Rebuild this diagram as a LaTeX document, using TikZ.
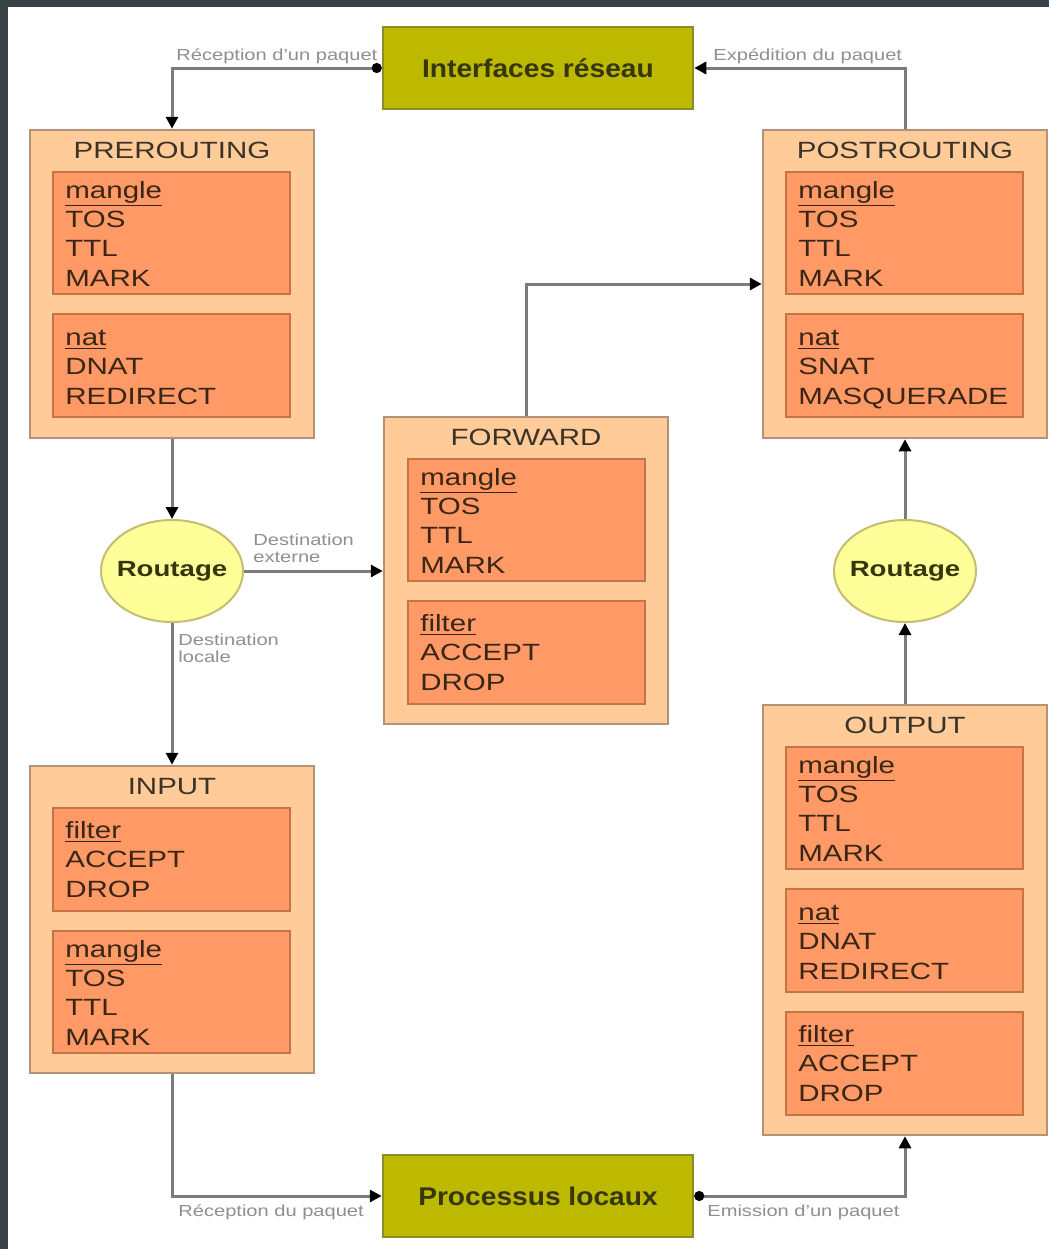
\documentclass[tikz,border=0pt]{standalone}
\usepackage{fontspec}
\setmainfont{Liberation Sans}[FakeStretch=1.255]
\newfontfamily\olivefont{Liberation Sans}[FakeStretch=1.1]
\usetikzlibrary{arrows.meta,shapes.geometric,fit}
\definecolor{bgdark}{HTML}{394246}
\definecolor{outerfill}{HTML}{FFCC99}
\definecolor{outerdraw}{HTML}{B39279}
\definecolor{innerfill}{HTML}{FF9966}
\definecolor{innerdraw}{HTML}{C47445}
\definecolor{olivefill}{HTML}{BDB800}
\definecolor{olivedraw}{HTML}{8E8B2E}
\definecolor{ellfill}{HTML}{FFFF99}
\definecolor{elldraw}{HTML}{C4BD72}
\definecolor{linegray}{HTML}{7C7C7C}
\definecolor{labelgray}{HTML}{8F8F8F}
\definecolor{boxtext}{HTML}{3A2616}
\definecolor{titletext}{HTML}{3B3328}
\definecolor{olivetext}{HTML}{36360C}
\tikzset{
  endtip/.tip={Triangle[length=6pt,width=6pt,color=black]},
  starttip/.tip={Circle[length=5pt,color=black]},
  outerbox/.style={draw=outerdraw, fill=outerfill, line width=1.25pt, inner sep=0pt},
  innerbox/.style={draw=innerdraw, fill=innerfill, line width=1pt, inner sep=0pt},
  olivebox/.style={draw=olivedraw, fill=olivefill, line width=1.25pt, inner sep=0pt},
  olivetxt/.style={inner sep=0pt, text=olivetext, font=\olivefont\bfseries\fontsize{12.8}{15}\selectfont},
  routbox/.style={ellipse, draw=elldraw, fill=ellfill, line width=1pt, minimum width=71pt, minimum height=51pt, inner sep=0pt},
  routtxt/.style={inner sep=0pt, text=olivetext, font=\bfseries\fontsize{11}{13}\selectfont},
  titletxt/.style={anchor=base, inner sep=0pt, text=titletext, font=\fontsize{11.75}{14}\selectfont},
  boxtxt/.style={anchor=base west, inner sep=0pt, align=left, text=boxtext, font=\fontsize{11.75}{14.65}\selectfont},
  labeltxt/.style={anchor=base west, inner sep=0pt, align=left, text=labelgray, font=\fontsize{8}{8.5}\selectfont},
  conn/.style={draw=linegray, line width=1.5pt},
}
\begin{document}
\begin{tikzpicture}[x=0.5pt,y=-0.5pt]
\useasboundingbox (0,0) rectangle (1049,1249);
\fill[white] (0,0) rectangle (1049,1249);
\fill[bgdark] (0,0) rectangle (1049,7);
\fill[bgdark] (0,0) rectangle (8,1249);

% olive boxes
\node[olivebox, fit={(383,27) (693,109)}] (ifaces) {};
\node[olivetxt] (ifacest) at (ifaces.center) {Interfaces réseau};
\node[olivebox, fit={(383,1155) (693,1237)}] (proc) {};
\node[olivetxt] (proct) at (proc.center) {Processus locaux};

% PREROUTING (multi-line nodes: base = last line)
\node[outerbox, fit={(30,130) (314,438)}] (pre) {};
\node[titletxt] (pret) at (172,158) {PREROUTING};
\node[innerbox, fit={(53,172) (290,294)}] (prem) {};
\node[boxtxt] (premt) at (65,286) {\underline{mangle}\\TOS\\TTL\\MARK};
\node[innerbox, fit={(53,314) (290,417)}] (pren) {};
\node[boxtxt] (prent) at (65,404) {\underline{nat}\\DNAT\\REDIRECT};

% POSTROUTING
\node[outerbox, fit={(763,130) (1047,438)}] (post) {};
\node[titletxt] (postt) at (905,158) {POSTROUTING};
\node[innerbox, fit={(786,172) (1023,294)}] (postm) {};
\node[boxtxt] (postmt) at (798,286) {\underline{mangle}\\TOS\\TTL\\MARK};
\node[innerbox, fit={(786,314) (1023,417)}] (postn) {};
\node[boxtxt] (postnt) at (798,404) {\underline{nat}\\SNAT\\MASQUERADE};

% FORWARD
\node[outerbox, fit={(384,417) (668,724)}] (fwd) {};
\node[titletxt] (fwdt) at (526,445) {FORWARD};
\node[innerbox, fit={(408,459) (645,581)}] (fwdm) {};
\node[boxtxt] (fwdmt) at (420,573) {\underline{mangle}\\TOS\\TTL\\MARK};
\node[innerbox, fit={(408,601) (645,704)}] (fwdf) {};
\node[boxtxt] (fwdft) at (420,690) {\underline{filter}\\ACCEPT\\DROP};

% INPUT
\node[outerbox, fit={(30,766) (314,1073)}] (inp) {};
\node[titletxt] (inpt) at (172,794) {INPUT};
\node[innerbox, fit={(53,808) (290,911)}] (inpf) {};
\node[boxtxt] (inpft) at (65,897) {\underline{filter}\\ACCEPT\\DROP};
\node[innerbox, fit={(53,931) (290,1053)}] (inpm) {};
\node[boxtxt] (inpmt) at (65,1045) {\underline{mangle}\\TOS\\TTL\\MARK};

% OUTPUT
\node[outerbox, fit={(763,705) (1047,1135)}] (out) {};
\node[titletxt] (outt) at (905,733) {OUTPUT};
\node[innerbox, fit={(786,747) (1023,869)}] (outm) {};
\node[boxtxt] (outmt) at (798,861) {\underline{mangle}\\TOS\\TTL\\MARK};
\node[innerbox, fit={(786,889) (1023,992)}] (outn) {};
\node[boxtxt] (outnt) at (798,979) {\underline{nat}\\DNAT\\REDIRECT};
\node[innerbox, fit={(786,1012) (1023,1115)}] (outf) {};
\node[boxtxt] (outft) at (798,1101) {\underline{filter}\\ACCEPT\\DROP};

% Routage
\node[routbox] (routl) at (172,571) {};
\node[routtxt] (routlt) at (routl.center) {Routage};
\node[routbox] (routr) at (905,571) {};
\node[routtxt] (routrt) at (routr.center) {Routage};

% connectors
\draw[conn, starttip-endtip] (ifaces.west) -| (pre.north);
\draw[conn, -endtip] (post.north) |- (ifaces.east);
\draw[conn, -endtip] (pre.south) -- (routl.north);
\draw[conn, -endtip] (routl.east) -- (routl.east -| fwd.west);
\draw[conn, -endtip] (routl.south) -- (inp.north);
\draw[conn, -endtip] (fwd.north) |- (post.west);
\draw[conn, -endtip] (inp.south) |- (proc.west);
\draw[conn, starttip-endtip] (proc.east) -| (out.south);
\draw[conn, -endtip] (out.north) -- (routr.south);
\draw[conn, -endtip] (routr.north) -- (post.south);

% labels
\node[labeltxt] (l1) at (176,60) {Réception d'un paquet};
\node[labeltxt] (l2) at (713,60) {Expédition du paquet};
\node[labeltxt] (l3) at (253,562) {Destination\\externe};
\node[labeltxt] (l4) at (178,662) {Destination\\locale};
\node[labeltxt] (l5) at (178,1216) {Réception du paquet};
\node[labeltxt] (l6) at (707,1216) {Emission d'un paquet};
\end{tikzpicture}
\end{document}
